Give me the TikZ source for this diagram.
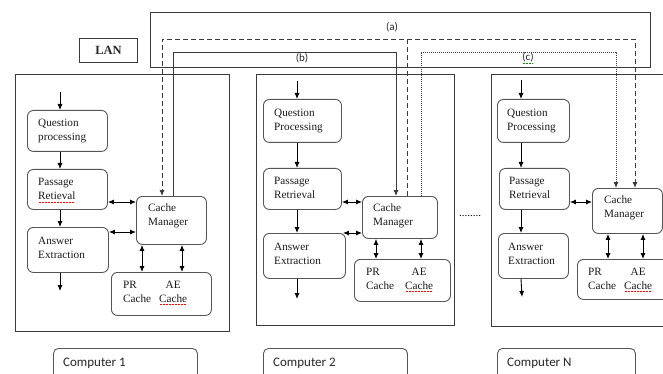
\documentclass[tikz,border=0pt]{standalone}
\usepackage{fontspec}
\setmainfont{Liberation Serif}
\newfontfamily\timesf{Liberation Serif}
\newfontfamily\calibri{Carlito}
\usetikzlibrary{arrows.meta}
\definecolor{ln}{HTML}{3A3A3A}
\definecolor{bx}{HTML}{555555}
\newsavebox\sqbox
\newcommand\squig[2][red]{\sbox\sqbox{#2}\rlap{\raisebox{-2.6pt}{\color{#1}\leaders\hbox to 1.5pt{\hss\rule{0.8pt}{0.5pt}\hss}\hskip\wd\sqbox}}\usebox\sqbox}
\begin{document}
\begin{tikzpicture}[x=1pt,y=-1pt,
  frame/.style={draw=ln, line width=0.9pt, anchor=north west, inner sep=0pt},
  box/.style={draw=bx, line width=0.9pt, rounded corners=6pt, anchor=north west, inner sep=0pt},
  txt/.style={anchor=north west, inner sep=0pt, align=left, font=\timesf\fontsize{11.2}{14}\selectfont, text=black!90},
  lbl/.style={inner sep=0pt, font=\calibri\fontsize{11}{13}\selectfont, text=black!85},
  comp/.style={anchor=base west, inner sep=0pt, font=\calibri\fontsize{13}{15}\selectfont, text=black!85},
  tip/.style={-{Latex[length=6pt,width=5pt]}},
  arr/.style={draw=black, line width=0.9pt, tip},
  darr/.style={draw=black, line width=0.9pt, {Latex[length=6pt,width=5pt]}-{Latex[length=6pt,width=5pt]}},
  solidln/.style={draw=ln, line width=0.9pt, tip},
  dashln/.style={draw=ln, line width=0.9pt, dash pattern=on 5pt off 3pt, tip},
  dotln/.style={draw=ln, line width=0.8pt, dash pattern=on 1pt off 1pt, tip},
  ]
\useasboundingbox (0,0) rectangle (663,374);
\clip (0,0) rectangle (663,374);

% LAN
\node[frame, minimum width=500pt, minimum height=55pt] (lan) at (150,12) {};
\node[frame, minimum width=58pt, minimum height=24pt, font=\timesf\bfseries\fontsize{12.5}{14}\selectfont, text=black!85] (lanlbl) at (79,38) {LAN};

% computer frames
\node[frame, minimum width=214pt, minimum height=257pt] (c1) at (15,74) {};
\node[frame, minimum width=198pt, minimum height=251pt] (c2) at (256,74) {};
\node[frame, minimum width=200pt, minimum height=252pt] (c3) at (491,74) {};

% computer labels
\node[box, rounded corners=5pt, minimum width=144pt, minimum height=40pt] (l1) at (53,348) {};
\node[comp] (t1) at (63,366) {Computer 1};
\node[box, rounded corners=5pt, minimum width=144pt, minimum height=40pt] (l2) at (263,348) {};
\node[comp] (t2) at (273,366) {Computer 2};
\node[box, rounded corners=5pt, minimum width=138pt, minimum height=40pt] (l3) at (497,348) {};
\node[comp] (t3) at (507,366) {Computer N};

% ---- Computer 1 boxes
\node[box, minimum width=80pt, minimum height=41pt] (qp1) at (27,110) {};
\node[txt] at ([shift={(11,9)}]qp1.north west) {Question\\processing};
\node[box, minimum width=80pt, minimum height=40pt] (pr1) at (27,169) {};
\node[txt] at ([shift={(11,9)}]pr1.north west) {Passage\\\squig{Retieval}};
\node[box, minimum width=81pt, minimum height=45pt] (ae1) at (27,227) {};
\node[txt] at ([shift={(11,10)}]ae1.north west) {Answer\\Extraction};
\node[box, minimum width=70pt, minimum height=48pt] (cm1) at (136,196) {};
\node[txt] at ([shift={(12,8)}]cm1.north west) {Cache\\Manager};
\node[box, minimum width=100pt, minimum height=43pt] (ca1) at (111,272) {};
\node[txt] at ([shift={(12,6)}]ca1.north west) {\begin{tabular}{@{}l@{\hspace{8pt}}c@{}}PR & AE\\Cache & \squig{Cache}\end{tabular}};

% ---- Computer 2 boxes
\node[box, minimum width=78pt, minimum height=43pt] (qp2) at (263,99) {};
\node[txt] at ([shift={(11,10)}]qp2.north west) {Question\\Processing};
\node[box, minimum width=78pt, minimum height=41pt] (pr2) at (263,168) {};
\node[txt] at ([shift={(11,9)}]pr2.north west) {Passage\\Retrieval};
\node[box, minimum width=82pt, minimum height=45pt] (ae2) at (263,233) {};
\node[txt] at ([shift={(11,10)}]ae2.north west) {Answer\\Extraction};
\node[box, minimum width=75pt, minimum height=42pt] (cm2) at (362,196) {};
\node[txt] at ([shift={(11,8)}]cm2.north west) {Cache\\Manager};
\node[box, minimum width=96pt, minimum height=42pt] (ca2) at (354,259) {};
\node[txt] at ([shift={(12,6)}]ca2.north west) {\begin{tabular}{@{}l@{\hspace{11pt}}c@{}}PR & AE\\Cache & \squig{Cache}\end{tabular}};

% ---- Computer N boxes
\node[box, minimum width=72pt, minimum height=43pt] (qp3) at (497,99) {};
\node[txt] at ([shift={(10,10)}]qp3.north west) {Question\\Processing};
\node[box, minimum width=70pt, minimum height=41pt] (pr3) at (499,168) {};
\node[txt] at ([shift={(10,9)}]pr3.north west) {Passage\\Retrieval};
\node[box, minimum width=70pt, minimum height=45pt] (ae3) at (498,233) {};
\node[txt] at ([shift={(10,10)}]ae3.north west) {Answer\\Extraction};
\node[box, minimum width=70pt, minimum height=45pt] (cm3) at (592,188) {};
\node[txt] at ([shift={(12,8)}]cm3.north west) {Cache\\Manager};
\node[box, minimum width=95pt, minimum height=40pt] (ca3) at (577,259) {};
\node[txt] at ([shift={(11,6)}]ca3.north west) {\begin{tabular}{@{}l@{\hspace{8pt}}c@{}}PR & AE\\Cache & \squig{Cache}\end{tabular}};

% dots between computers
\node[inner sep=0pt, anchor=base, font=\timesf\fontsize{11}{14}\selectfont] (dots) at (470,216) {........};

% ---- arrows computer 1
\coordinate (k1) at (60,92); \coordinate (o1) at (60,291);
\draw[arr] (k1) -- (k1 |- qp1.north);
\draw[arr] (k1 |- qp1.south) -- (k1 |- pr1.north);
\draw[arr] (k1 |- pr1.south) -- (k1 |- ae1.north);
\draw[arr] (k1 |- ae1.south) -- (o1);
\coordinate (h1a) at (0,202); \coordinate (h1b) at (0,232);
\draw[darr] (pr1.east |- h1a) -- (cm1.west |- h1a);
\draw[darr] (ae1.east |- h1b) -- (cm1.west |- h1b);
\coordinate (v1a) at (142,0); \coordinate (v1b) at (182,0);
\draw[darr] (v1a |- cm1.south) -- (v1a |- ca1.north);
\draw[darr] (v1b |- cm1.south) -- (v1b |- ca1.north);

% ---- arrows computer 2
\coordinate (k2) at (297,81); \coordinate (o2) at (297,299);
\draw[arr] (k2) -- (k2 |- qp2.north);
\draw[arr] (k2 |- qp2.south) -- (k2 |- pr2.north);
\draw[arr] (k2 |- pr2.south) -- (k2 |- ae2.north);
\draw[arr] (k2 |- ae2.south) -- (o2);
\coordinate (h2a) at (0,202); \coordinate (h2b) at (0,233);
\draw[darr] (pr2.east |- h2a) -- (cm2.west |- h2a);
\draw[darr] ([xshift=-3pt]ae2.east |- h2b) -- (cm2.west |- h2b);
\coordinate (v2a) at (376,0); \coordinate (v2b) at (421,0);
\draw[darr] (v2a |- cm2.south) -- (v2a |- ca2.north);
\draw[darr] (v2b |- cm2.south) -- (v2b |- ca2.north);

% ---- arrows computer N
\coordinate (k3) at (521,80); \coordinate (o3) at (522,297);
\draw[arr] (k3) -- (k3 |- qp3.north);
\draw[arr] (k3 |- qp3.south) -- (k3 |- pr3.north);
\draw[arr] (k3 |- pr3.south) -- (k3 |- ae3.north);
\draw[arr] (k3 |- ae3.south) -- (o3);
\coordinate (h3a) at (0,202);
\draw[darr] (pr3.east |- h3a) -- (cm3.west |- h3a);
\coordinate (v3a) at (608,0); \coordinate (v3b) at (643,0);
\draw[darr] (v3a |- cm3.south) -- (v3a |- ca3.north);
\draw[darr] (v3b |- cm3.south) -- (v3b |- ca3.north);

% ---- LAN connections
% (b) solid
\coordinate (bL) at (173,52); \coordinate (bR) at (396,52);
\draw[solidln] (bL |- cm1.north) -- (bL) -- (bR) -- (bR |- cm2.north);
% (a) dashed
\coordinate (aL) at (162,39); \coordinate (aM) at (407,39); \coordinate (aR) at (635,39);
\draw[dashln] (aM |- cm2.north) -- (aM) -- (aL) -- (aL |- cm1.north);
\draw[dashln] (aM) -- (aR) -- (aR |- cm3.north);
% (c) dotted
\coordinate (cL) at (421,52); \coordinate (cR) at (616,52);
\draw[dotln] (cL |- cm2.north) -- (cL) -- (cR) -- (cR |- cm3.north);

\node[lbl] (la) at (392,27) {(a)};
\node[lbl] (lb) at (302,58) {(b)};
\node[lbl] (lc) at (528,58) {\squig[green!55!black]{(c)}};
\end{tikzpicture}
\end{document}
